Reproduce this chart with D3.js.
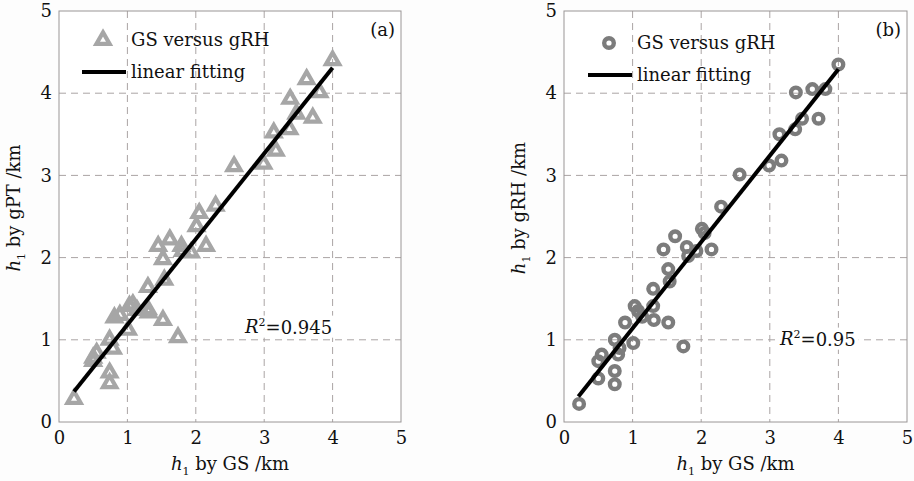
<!DOCTYPE html>
<html>
<head>
<meta charset="utf-8">
<script src="https://cdn.jsdelivr.net/npm/d3@7"></script>
<style>
    body { margin: 0; background: #fdfdfd; }
    text { font-family: "DejaVu Serif", "Liberation Serif", serif; fill: #111; }
</style>
</head>
<body>
<svg id="chart" width="914" height="481"></svg>
<script>
// h1 from GS (shared x for both panels), km
let gsH = [0.22, 0.50, 0.50, 0.55, 0.74, 0.74, 0.74, 0.79, 0.81, 0.89,
           1.01, 1.03, 1.08, 1.14, 1.30, 1.30, 1.31, 1.52, 1.45, 1.52,
           1.54, 1.62, 1.74, 1.79, 1.81, 1.93, 2.01, 2.05, 2.15, 2.29,
           2.56, 2.99, 3.17, 3.14, 3.37, 3.47, 3.71, 3.38, 3.62, 3.81, 4.00];
// h1 from gPT, km (panel a)
let gptH = [0.28, 0.74, 0.78, 0.84, 0.47, 0.60, 1.00, 0.89, 1.27, 1.30,
            1.12, 1.41, 1.43, 1.36, 1.64, 1.37, 1.33, 1.24, 2.14, 1.98,
            1.73, 2.22, 1.03, 2.14, 2.08, 2.06, 2.38, 2.54, 2.14, 2.63,
            3.11, 3.14, 3.30, 3.52, 3.56, 3.75, 3.70, 3.93, 4.17, 4.01, 4.40];
// h1 from gRH, km (panel b)
let grhH = [0.22, 0.53, 0.74, 0.82, 0.46, 0.62, 1.00, 0.82, 0.90, 1.21,
            0.96, 1.41, 1.35, 1.28, 1.62, 1.41, 1.24, 1.21, 2.10, 1.86,
            1.71, 2.26, 0.92, 2.13, 2.02, 2.08, 2.35, 2.30, 2.10, 2.62,
            3.01, 3.12, 3.18, 3.50, 3.56, 3.69, 3.69, 4.01, 4.05, 4.05, 4.35];

// linear fitting end points [x, y]
let fitGPT = [[0.22, 0.37], [4.00, 4.31]];
let fitGRH = [[0.21, 0.31], [4.00, 4.29]];

let tickVals = [0, 1, 2, 3, 4, 5];
let panelTags = ['(a)', '(b)'];
let r2Vals = ['0.945', '0.95'];
let yNames = ['gPT', 'gRH'];
let legendNames = ['GS versus gRH', 'linear fitting'];

function drawPanel(opt){
    let svg = d3.select('#chart');

    // plot area
    let left = opt.left;
    let right = opt.right;
    let top = 11;
    let bottom = 422;

    let xScale = d3.scaleLinear()
                    .domain([0, 5])
                    .range([left, right]);
    let yScale = d3.scaleLinear()
                    .domain([0, 5])
                    .range([bottom, top]);

    let g = svg.append('g').attr('class', 'panel');

    // white plot background
    g.append('rect')
        .attr('x', left)
        .attr('y', top)
        .attr('width', right - left)
        .attr('height', bottom - top)
        .attr('fill', '#ffffff');

    // dashed grid
    g.selectAll('.vgrid')
        .data(tickVals.slice(1, -1))
        .enter()
        .append('line')
        .attr('x1', d => xScale(d))
        .attr('x2', d => xScale(d))
        .attr('y1', top)
        .attr('y2', bottom)
        .attr('stroke', '#aaa4a4')
        .attr('stroke-width', 1)
        .attr('stroke-dasharray', '7,5');
    g.selectAll('.hgrid')
        .data(tickVals.slice(1, -1))
        .enter()
        .append('line')
        .attr('x1', left)
        .attr('x2', right)
        .attr('y1', d => yScale(d))
        .attr('y2', d => yScale(d))
        .attr('stroke', '#aaa4a4')
        .attr('stroke-width', 1)
        .attr('stroke-dasharray', '7,5');

    // axes box
    g.append('rect')
        .attr('x', left)
        .attr('y', top)
        .attr('width', right - left)
        .attr('height', bottom - top)
        .attr('fill', 'none')
        .attr('stroke', '#9a9696')
        .attr('stroke-width', 1);

    // tick labels through d3 axes
    let xAxis = d3.axisBottom(xScale).tickValues(tickVals).tickFormat(d3.format('d')).tickSize(0).tickPadding(9);
    let yAxis = d3.axisLeft(yScale).tickValues(tickVals).tickFormat(d3.format('d')).tickSize(0).tickPadding(7);
    let xg = g.append('g').attr('transform', 'translate(0,' + bottom + ')').call(xAxis);
    let yg = g.append('g').attr('transform', 'translate(' + left + ',0)').call(yAxis);
    xg.select('.domain').remove();
    yg.select('.domain').remove();
    g.selectAll('.tick text')
        .attr('font-family', '"DejaVu Serif", serif')
        .attr('font-size', 18)
        .attr('fill', '#111');

    // data points
    if (opt.marker === 'triangle'){
        let tri = d3.symbol(d3.symbolTriangle, 75);
        g.selectAll('.pt')
            .data(opt.ys)
            .enter()
            .append('path')
            .attr('d', tri)
            .attr('transform', (d, i) => 'translate(' + xScale(gsH[i]) + ',' + yScale(d) + ')')
            .attr('fill', 'none')
            .attr('stroke', '#a6a6a6')
            .attr('stroke-width', 4.2);
    } else {
        g.selectAll('.pt')
            .data(opt.ys)
            .enter()
            .append('circle')
            .attr('cx', (d, i) => xScale(gsH[i]))
            .attr('cy', d => yScale(d))
            .attr('r', 4.8)
            .attr('fill', 'none')
            .attr('stroke', '#7c7c7c')
            .attr('stroke-width', 4.4);
    }

    // linear fitting
    let line = d3.line()
                .x(d => xScale(d[0]))
                .y(d => yScale(d[1]));
    g.append('path')
        .datum(opt.fit)
        .attr('d', line)
        .attr('stroke', '#000')
        .attr('stroke-width', 4)
        .attr('fill', 'none');

    // legend
    let lg = g.append('g').attr('transform', 'translate(' + opt.legX + ',' + opt.legY + ')');
    if (opt.marker === 'triangle'){
        lg.append('path')
            .attr('d', d3.symbol(d3.symbolTriangle, 75))
            .attr('transform', 'translate(21,0)')
            .attr('fill', 'none')
            .attr('stroke', '#a6a6a6')
            .attr('stroke-width', 4.2);
    } else {
        lg.append('circle')
            .attr('cx', 21)
            .attr('cy', 0)
            .attr('r', 4.8)
            .attr('fill', 'none')
            .attr('stroke', '#7c7c7c')
            .attr('stroke-width', 4.4);
    }
    lg.append('text')
        .attr('x', 49)
        .attr('y', 0)
        .attr('dy', '0.35em')
        .attr('font-size', 18)
        .text(legendNames[0]);
    lg.append('line')
        .attr('x1', 0)
        .attr('x2', 44)
        .attr('y1', 32)
        .attr('y2', 32)
        .attr('stroke', '#000')
        .attr('stroke-width', 4);
    lg.append('text')
        .attr('x', 49)
        .attr('y', 32)
        .attr('dy', '0.35em')
        .attr('font-size', 18)
        .text(legendNames[1]);

    // panel tag
    g.append('text')
        .attr('x', right - 6)
        .attr('y', 30)
        .attr('dy', '0.35em')
        .attr('text-anchor', 'end')
        .attr('font-size', 18)
        .text(opt.tag);

    // R^2 label, white box behind
    let r2 = g.append('text')
        .attr('x', opt.r2X)
        .attr('y', opt.r2Y)
        .attr('dy', '0.35em')
        .attr('font-size', 18);
    r2.append('tspan').attr('font-style', 'italic').text('R');
    r2.append('tspan').attr('font-size', 11).attr('dy', '-0.7em').text('2');
    r2.append('tspan').attr('dy', '0.45em').text('=' + opt.r2);
    let bb = r2.node().getBBox();
    g.insert('rect', function(){ return r2.node(); })
        .attr('x', bb.x - 3)
        .attr('y', bb.y)
        .attr('width', bb.width + 6)
        .attr('height', bb.height)
        .attr('fill', '#ffffff');

    // x axis title
    let xt = g.append('text')
        .attr('x', (left + right) / 2)
        .attr('y', 470)
        .attr('text-anchor', 'middle')
        .attr('font-size', 18);
    xt.append('tspan').attr('font-style', 'italic').text('h');
    xt.append('tspan').attr('font-size', 11).attr('dy', 5).text('1');
    xt.append('tspan').attr('dy', -5).text(' by GS /km');

    // y axis title
    let yt = g.append('text')
        .attr('transform', 'translate(' + (left - 39) + ',' + 208 + ') rotate(-90)')
        .attr('text-anchor', 'middle')
        .attr('font-size', 18);
    yt.append('tspan').attr('font-style', 'italic').text('h');
    yt.append('tspan').attr('font-size', 11).attr('dy', 5).text('1');
    yt.append('tspan').attr('dy', -5).text(' by ' + opt.yName + ' /km');
}

drawPanel({left: 59, right: 401, ys: gptH, fit: fitGPT, marker: 'triangle',
           legX: 82, legY: 40, tag: panelTags[0], r2: r2Vals[0], r2X: 245, r2Y: 327, yName: yNames[0]});
drawPanel({left: 564, right: 907, ys: grhH, fit: fitGRH, marker: 'circle',
           legX: 588, legY: 43, tag: panelTags[1], r2: r2Vals[1], r2X: 780, r2Y: 339, yName: yNames[1]});
</script>
</body>
</html>
